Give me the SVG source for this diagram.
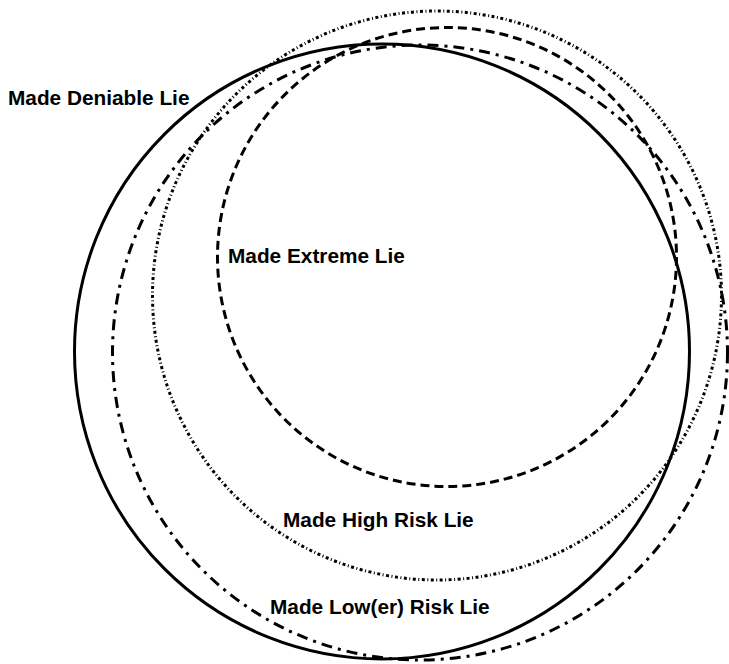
<svg xmlns="http://www.w3.org/2000/svg" width="729" height="664" viewBox="0 0 729 664">
<style>
.c{fill:none;stroke:#000}
.solid{stroke-width:3}
.dash{stroke-width:3;stroke-dasharray:9 5}
.dashdot{stroke-width:3;stroke-dasharray:11 6 3 6}
.dotted{stroke-width:3;stroke-dasharray:3 2.5 1 2.5}
text{font-family:"Liberation Sans",Arial,sans-serif;font-weight:bold;font-size:20.8px;fill:#000}
</style>
<rect width="729" height="664" fill="#fff"/>
<g id="deniable">
<circle class="c solid" cx="382" cy="351.5" r="307.5"/>
<text x="8" y="105">Made Deniable Lie</text>
</g>
<g id="lower-risk">
<circle class="c dashdot" cx="420" cy="352.5" r="307.5"/>
<text x="270" y="614">Made Low(er) Risk Lie</text>
</g>
<g id="high-risk">
<circle class="c dotted" cx="437" cy="295.5" r="284.5"/>
<text x="283" y="527">Made High Risk Lie</text>
</g>
<g id="extreme">
<circle class="c dash" cx="447" cy="257" r="229.5"/>
<text x="228" y="263">Made Extreme Lie</text>
</g>
<g id="connectors"></g>
</svg>
